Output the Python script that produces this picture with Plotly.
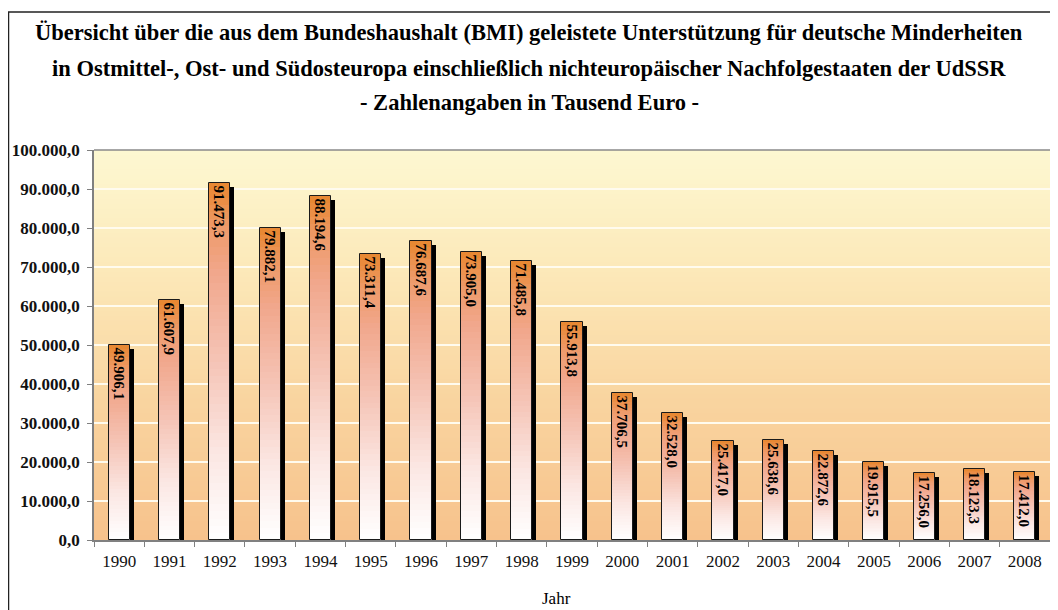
import plotly.graph_objects as go

years = [str(y) for y in range(1990, 2009)]
values = [49906.1, 61607.9, 91473.3, 79882.1, 88194.6, 73311.4, 76687.6, 73905.0,
          71485.8, 55913.8, 37706.5, 32528.0, 25417.0, 25638.6, 22872.6, 19915.5,
          17256.0, 18123.3, 17412.0]
labels = ["49.906,1", "61.607,9", "91.473,3", "79.882,1", "88.194,6", "73.311,4",
          "76.687,6", "73.905,0", "71.485,8", "55.913,8", "37.706,5", "32.528,0",
          "25.417,0", "25.638,6", "22.872,6", "19.915,5", "17.256,0", "18.123,3",
          "17.412,0"]
title_lines = [
    "Übersicht über die aus dem Bundeshaushalt (BMI) geleistete Unterstützung für deutsche Minderheiten",
    "in Ostmittel-, Ost- und Südosteuropa einschließlich nichteuropäischer Nachfolgestaaten der UdSSR",
    "- Zahlenangaben in Tausend Euro -",
]
x_title = "Jahr"

OFF = 8  # page body margin
W, H = 1058 - OFF, 610 - OFF
L, R, T, B = 94 - OFF, 1050 - OFF, 150 - OFF, 540 - OFF
YMAX = 100000
FONT = "Liberation Serif"


def px_x(p):
    return (p - OFF - L) / (R - L)


def px_y(p):
    return (B - (p - OFF)) / (B - T)


def hexrgb(h):
    h = h.lstrip("#")
    return tuple(int(h[i:i + 2], 16) for i in (0, 2, 4))


def interp(stops, f):
    for (f0, c0), (f1, c1) in zip(stops, stops[1:]):
        if f0 <= f <= f1:
            t = (f - f0) / (f1 - f0) if f1 > f0 else 0
            a, b = hexrgb(c0), hexrgb(c1)
            return "rgb(%d,%d,%d)" % tuple(round(a[k] + (b[k] - a[k]) * t) for k in range(3))
    return stops[-1][1]


bar_stops = [(0.0, "#ffffff"), (0.25, "#fbe6e2"), (0.5, "#f5c4b6"),
             (0.75, "#f1a78c"), (0.88, "#ee9a68"), (1.0, "#e8862e")]
bg_stops = [(0.0, "#f7c28c"), (0.35, "#f9d49f"), (0.7, "#fce9b9"), (1.0, "#fdf8d2")]

BW = 0.42
px_per_cat = (R - L) / len(years)
shadow_dx = 4 / px_per_cat
shadow_dy = 4 * YMAX / (B - T)

fig = go.Figure()

# shadow
fig.add_trace(go.Bar(
    x=years, y=[v - shadow_dy for v in values], width=BW, offset=-BW / 2 + shadow_dx,
    marker=dict(color="black", line=dict(width=0)), hoverinfo="skip", showlegend=False))

# gradient segments
N = 50
for i in range(N):
    f = (i + 0.5) / N
    h = 1.6 if i < N - 1 else 1.0
    fig.add_trace(go.Bar(
        x=years, y=[v / N * h for v in values], base=[v * i / N for v in values],
        width=BW, marker=dict(color=interp(bar_stops, f), line=dict(width=0)),
        hoverinfo="skip", showlegend=False))

# outline + labels
fig.add_trace(go.Bar(
    x=years, y=values, width=BW, text=labels, textposition="inside",
    insidetextanchor="end", textangle=90, constraintext="none",
    textfont=dict(family=FONT, size=15, color="black", weight="bold"),
    marker=dict(color="rgba(0,0,0,0)", line=dict(color="#1a1a1a", width=1)),
    hoverinfo="skip", showlegend=False))

shapes = []
NB = 80
for i in range(NB):
    f = (i + 0.5) / NB
    shapes.append(dict(type="rect", xref="paper", yref="paper",
                       x0=0, x1=px_x(1060), y0=i / NB, y1=(i + 1.3) / NB if i < NB - 1 else 1,
                       fillcolor=interp(bg_stops, f), line=dict(width=0), layer="below"))
# top border of plot area
shapes.append(dict(type="line", xref="paper", yref="paper", x0=0, x1=px_x(1060), y0=1, y1=1,
                   line=dict(color="#8a8a8a", width=1.5)))
# outer frame
shapes.append(dict(type="rect", xref="paper", yref="paper",
                   x0=px_x(8.5), x1=px_x(1075), y0=px_y(12), y1=px_y(640),
                   line=dict(color="#222222", width=1.5), fillcolor="rgba(0,0,0,0)"))

annotations = []
for line, yp in zip(title_lines, [33, 68, 102]):
    annotations.append(dict(text="<b>%s</b>" % line, xref="paper", yref="paper",
                            x=px_x(529), y=px_y(yp), xanchor="center", yanchor="middle",
                            showarrow=False, font=dict(family=FONT, size=22.5, color="black")))
annotations.append(dict(text=x_title, xref="paper", yref="paper", x=px_x(556), y=px_y(598),
                        xanchor="center", yanchor="middle", showarrow=False,
                        font=dict(family=FONT, size=17, color="black")))

fig.update_layout(
    width=W, height=H,
    margin=dict(l=L, r=W - R, t=T, b=H - B, autoexpand=False),
    paper_bgcolor="white", plot_bgcolor="rgba(0,0,0,0)",
    barmode="overlay", separators=",.", bargap=0,
    shapes=shapes, annotations=annotations,
    xaxis=dict(type="category", range=[-0.5, len(years) - 0.5], showgrid=False,
               automargin=False,
               showline=True, linecolor="#808080", linewidth=1.5,
               ticks="outside", tickson="boundaries", ticklen=5, tickcolor="#808080",
               ticklabelstandoff=5,
               tickfont=dict(family=FONT, size=17, color="#111111")),
    yaxis=dict(range=[0, YMAX], dtick=10000, tickformat=",.1f", automargin=False,
               showgrid=True, gridcolor="#fffbee", gridwidth=1.5,
               showline=True, linecolor="#808080", linewidth=1.5,
               ticks="outside", ticklen=5, tickcolor="#808080", zeroline=False,
               ticklabelstandoff=4,
               tickfont=dict(family=FONT, size=17, color="#111111", weight="bold")),
)

fig.write_html("out.html")
